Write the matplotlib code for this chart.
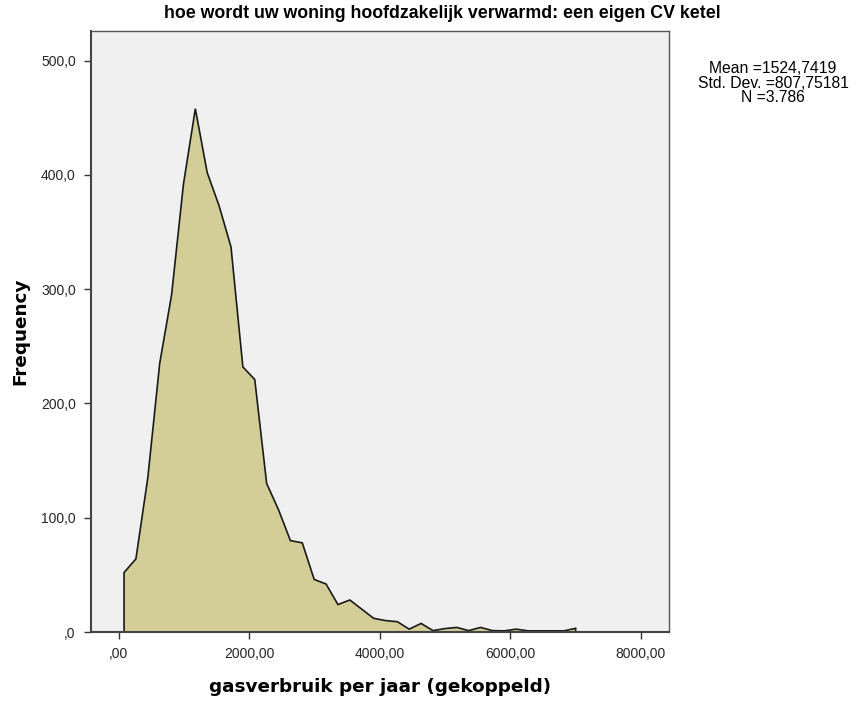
#!/usr/bin/env python

import numpy as np
import matplotlib

matplotlib.use("Agg")
import matplotlib.pyplot as plt

# bin midpoints of the frequency polygon (gasverbruik per jaar)
bin_mids = [83, 265, 447, 629, 811, 993, 1175, 1357, 1539, 1721,
            1903, 2085, 2267, 2449, 2631, 2813, 2995, 3177, 3359, 3541,
            3723, 3905, 4087, 4269, 4451, 4633, 4815, 4997, 5179, 5361,
            5543, 5725, 5907, 6089, 6271, 6453, 6635, 6817, 6999]
freqs = [52, 64, 135, 235, 295, 392, 458, 402, 373, 337,
         232, 221, 130, 107, 80, 78, 46, 42, 24, 28,
         20, 12, 10, 9, 2.5, 7.5, 1.2, 3, 4, 1.2,
         4, 1.2, 1, 2.5, 1, 1, 1, 1, 3.2]

x_ticks = [0, 2000, 4000, 6000, 8000]
x_ticklabels = [",00", "2000,00", "4000,00", "6000,00", "8000,00"]
y_ticks = [0, 100, 200, 300, 400, 500]
y_ticklabels = [",0", "100,0", "200,0", "300,0", "400,0", "500,0"]

TITLE = "hoe wordt uw woning hoofdzakelijk verwarmd: een eigen CV ketel"
STATS = "Mean =1524,7419\nStd. Dev. =807,75181\nN =3.786"

FILL = "#D3CE98"
PANEL = "#F0F0F0"


def plot_polygon():
    fig = plt.figure(figsize=(8.56, 7.02), dpi=100)
    ax = fig.add_axes([91 / 856, 70 / 702, 578 / 856, 601 / 702])
    ax.set_facecolor(PANEL)

    x = np.asarray(bin_mids, dtype=float)
    y = np.asarray(freqs, dtype=float)
    # close the polygon down to the baseline at both ends
    xs = np.concatenate([[x[0]], x, [x[-1]]])
    ys = np.concatenate([[0.0], y, [0.0]])
    ax.fill(xs, ys, facecolor=FILL, edgecolor="#1a1a1a", linewidth=1.2,
            joinstyle="miter")

    ax.set_xlim(-423, 8429)
    ax.set_ylim(0, 526)

    ax.set_xticks(x_ticks)
    ax.set_xticklabels(x_ticklabels)
    ax.set_yticks(y_ticks)
    ax.set_yticklabels(y_ticklabels)
    ax.tick_params(direction="out", length=5, width=1, color="#333333",
                   labelsize=10, labelcolor="#262626", pad=6)
    for lab in ax.get_xticklabels() + ax.get_yticklabels():
        lab.set_family(["Liberation Sans", "DejaVu Sans"])

    for side in ["top", "right"]:
        ax.spines[side].set_color("#555555")
        ax.spines[side].set_linewidth(1.0)
    for side in ["left", "bottom"]:
        ax.spines[side].set_color("#444444")
        ax.spines[side].set_linewidth(1.5)

    ax.set_xlabel("gasverbruik per jaar (gekoppeld)", fontsize=13.2,
                  fontweight="bold", family="DejaVu Sans", labelpad=12)
    ax.set_ylabel("Frequency", fontsize=13.2, fontweight="bold",
                  family="DejaVu Sans", labelpad=8)

    fig.text(442 / 856, 1 - 14 / 702, TITLE, ha="center", va="center",
             fontsize=12.8, fontweight="bold",
             family=["Liberation Sans", "DejaVu Sans"])
    fig.text(773 / 856, 1 - 83 / 702, STATS, ha="center", va="center",
             multialignment="center", fontsize=11.3, linespacing=0.95,
             family=["Liberation Sans", "DejaVu Sans"])

    fig.savefig("out.png", dpi=100, facecolor="white")


if __name__ == "__main__":
    plot_polygon()
